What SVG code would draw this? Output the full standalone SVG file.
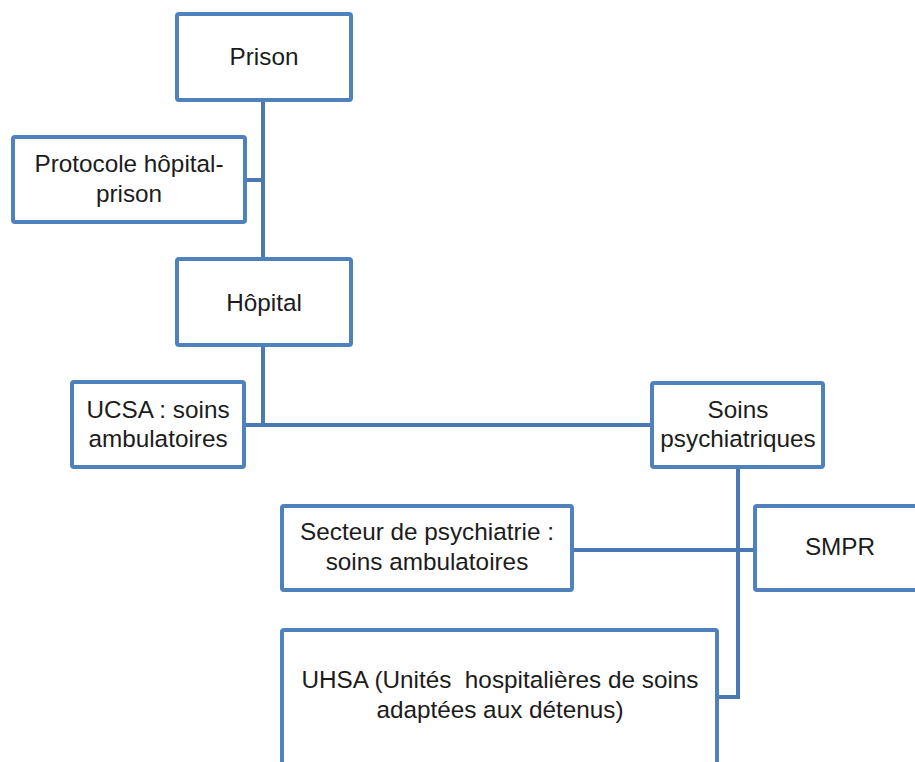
<svg xmlns="http://www.w3.org/2000/svg" width="915" height="762" viewBox="0 0 915 762">
<style>
.box{fill:#fff;stroke:#4F81BD;stroke-width:4}
.con{fill:none;stroke:#4A78B2;stroke-width:4}
text{font-family:"Liberation Sans",Arial,sans-serif;font-size:24.3px;fill:#1c1c1c;text-anchor:middle}
</style>
<rect width="915" height="762" fill="#fff"/>
<g id="connectors">
<path class="con" d="M263 100V259M245 180H263"/>
<path class="con" d="M263 345V425M244 425H652"/>
<path class="con" d="M738 467V697H717M572 550H755"/>
</g>
<g id="prison"><rect class="box" x="177" y="14" width="174" height="86" rx="2"/><text x="264" y="65">Prison</text></g>
<g id="protocole"><rect class="box" x="13" y="137" width="232" height="85" rx="2"/><text x="129" y="172">Protocole hôpital-</text><text x="129" y="202">prison</text></g>
<g id="hopital"><rect class="box" x="177" y="259" width="174" height="86" rx="2"/><text x="264" y="311">Hôpital</text></g>
<g id="ucsa"><rect class="box" x="72" y="382" width="172" height="85" rx="2"/><text x="158" y="418">UCSA : soins</text><text x="158" y="447">ambulatoires</text></g>
<g id="soins"><rect class="box" x="652" y="383" width="171" height="84" rx="2"/><text x="738" y="418">Soins</text><text x="738" y="447">psychiatriques</text></g>
<g id="secteur"><rect class="box" x="282" y="506" width="290" height="84" rx="2"/><text x="427" y="540">Secteur de psychiatrie :</text><text x="427" y="570">soins ambulatoires</text></g>
<g id="smpr"><rect class="box" x="755" y="506" width="180" height="84" rx="2"/><text x="840" y="555">SMPR</text></g>
<g id="uhsa"><rect class="box" x="282" y="630" width="435" height="160" rx="2"/><text x="500" y="688" xml:space="preserve">UHSA (Unités  hospitalières de soins</text><text x="500" y="718">adaptées aux détenus)</text></g>
</svg>
